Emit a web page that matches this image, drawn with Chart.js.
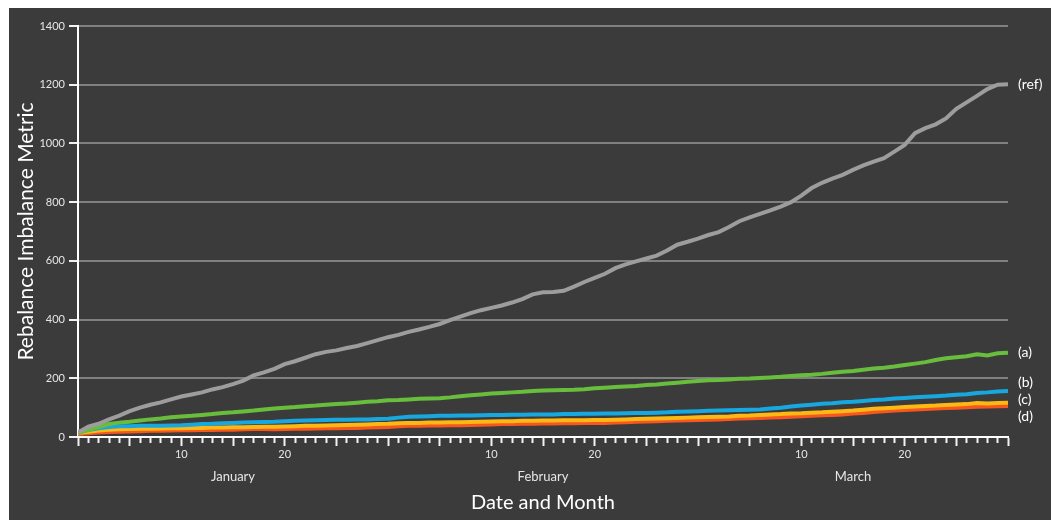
<!DOCTYPE html>
<html>
<head>
<meta charset="utf-8">
<script src="https://cdn.jsdelivr.net/npm/chart.js@4.4.1/dist/chart.umd.min.js"></script>
<style>
  body { margin: 0; background: #fff; overflow: hidden; }
  #wrap { position: absolute; left: 9px; top: 8px; width: 1042px; height: 512px; background: #3c3b3c; }
</style>
</head>
<body>
<div id="wrap"><canvas id="chart"></canvas></div>
<script>
// day position on the axis: each month is 30 slots wide (Jan 0..30, Feb 30..60, Mar 60..90)
const dayIndex = [
  0, 1, 2, 3, 4, 5, 6, 7, 8, 9, 10, 11, 12, 13, 14, 15, 16, 17, 18, 19, 20,
  21, 22, 23, 24, 25, 26, 27, 28, 29, 30, 31, 32, 33, 34, 35, 36, 37, 38, 39, 40,
  41, 42, 43, 44, 45, 46, 47, 48, 49, 50, 51, 52, 53, 54, 55, 56, 57, 58, 59, 60,
  61, 62, 63, 64, 65, 66, 67, 68, 69, 70, 71, 72, 73, 74, 75, 76, 77, 78, 79, 80,
  81, 82, 83, 84, 85, 86, 87, 88, 89, 90
];
const monthNames = ["January", "February", "March"];
const dayTickLabels = ["10", "20"];
const yTicks = [0, 200, 400, 600, 800, 1000, 1200, 1400];

const seriesTags = ["(ref)", "(a)", "(b)", "(c)", "(d)"];
const seriesColors = ["#9d9d9d", "#69bd3c", "#17a8e0", "#fdb813", "#f6561f"];

const refValues = [
  15, 35, 45, 60, 73, 88, 100, 110, 118, 128, 138, 145, 152, 162, 170, 180, 192, 210, 220, 232,
  248, 258, 270, 282, 290, 295, 303, 310, 320, 330, 340, 348, 358, 366, 375, 385, 398, 410, 422, 432,
  440, 448, 458, 470, 486, 493, 494, 498, 512, 528, 542, 556, 575, 588, 598, 608, 618, 635, 655, 665,
  676, 688, 698, 715, 735, 748, 760, 772, 785, 800, 822, 848, 866, 880, 893, 910, 925, 938, 950, 972,
  995, 1035, 1052, 1065, 1085, 1118, 1140, 1162, 1185, 1200, 1202
];
const aValues = [
  12, 24, 34, 44, 49, 52, 56, 60, 63, 67, 70, 72, 75, 78, 82, 84, 87, 90, 94, 97,
  100, 102, 105, 107, 110, 112, 114, 117, 120, 122, 125, 126, 128, 130, 131, 132, 135, 139, 142, 145,
  148, 150, 152, 154, 157, 158, 159, 160, 161, 163, 166, 168, 170, 172, 174, 177, 179, 182, 185, 188,
  191, 193, 194, 196, 198, 199, 201, 203, 205, 208, 210, 212, 215, 219, 222, 225, 229, 233, 236, 240,
  245, 250, 255, 262, 268, 272, 275, 282, 278, 285, 287
];
const bValues = [
  18, 24, 30, 34, 37, 37, 38, 38, 38, 39, 40, 42, 44, 45, 47, 48, 49, 50, 51, 52,
  54, 55, 56, 57, 58, 59, 59, 60, 60, 61, 62, 66, 69, 70, 71, 72, 72, 73, 73, 74,
  75, 75, 76, 76, 77, 77, 77, 78, 78, 79, 79, 80, 80, 81, 82, 82, 83, 84, 86, 87,
  88, 89, 90, 91, 92, 93, 94, 97, 100, 104, 107, 110, 113, 115, 118, 120, 123, 126, 128, 131,
  133, 135, 137, 139, 141, 144, 146, 150, 152, 155, 157
];
const cValues = [
  14, 18, 22, 25, 26, 27, 28, 28, 29, 30, 30, 31, 31, 32, 32, 33, 33, 34, 35, 35,
  36, 37, 38, 38, 39, 40, 41, 42, 43, 44, 45, 47, 48, 48, 49, 49, 50, 50, 51, 52,
  53, 54, 54, 55, 55, 56, 56, 57, 57, 57, 58, 58, 59, 60, 61, 62, 63, 64, 65, 66,
  67, 68, 69, 70, 72, 73, 75, 77, 78, 80, 81, 83, 84, 86, 88, 90, 93, 96, 98, 100,
  102, 104, 106, 107, 109, 111, 112, 116, 114, 116, 117
];
const dValues = [
  10, 13, 15, 17, 18, 19, 20, 21, 21, 22, 23, 23, 24, 24, 25, 25, 26, 27, 27, 26,
  27, 28, 28, 29, 30, 30, 31, 31, 32, 33, 34, 37, 38, 38, 39, 39, 40, 40, 41, 42,
  43, 44, 44, 45, 45, 46, 46, 47, 47, 48, 48, 48, 49, 50, 52, 53, 54, 55, 56, 57,
  58, 59, 60, 61, 63, 64, 65, 66, 67, 69, 71, 72, 74, 75, 77, 80, 82, 85, 88, 90,
  92, 94, 95, 97, 99, 100, 101, 103, 104, 105, 106
];

const FONT = "Lato, 'Open Sans', sans-serif";

// labels at the right end of every line, spread apart when they crowd
const endLabels = {
  id: "endLabels",
  afterDatasetsDraw(chart) {
    const ctx = chart.ctx;
    const gap = 17;
    const items = chart.data.datasets.map((ds, i) => {
      const pts = chart.getDatasetMeta(i).data;
      const p = pts[pts.length - 1];
      return { text: seriesTags[i], target: p.y };
    }).sort((a, b) => a.target - b.target);

    let groups = items.map(it => ({ members: [it], mean: it.target }));
    let merged = true;
    while (merged) {
      merged = false;
      for (let i = 0; i < groups.length - 1; i++) {
        const a = groups[i], b = groups[i + 1];
        const aBottom = a.mean + (a.members.length - 1) * gap / 2;
        const bTop = b.mean - (b.members.length - 1) * gap / 2;
        if (bTop - aBottom < gap) {
          const members = a.members.concat(b.members);
          const mean = members.reduce((s, m) => s + m.target, 0) / members.length;
          groups.splice(i, 2, { members: members, mean: mean });
          merged = true;
          break;
        }
      }
    }

    ctx.save();
    ctx.font = "14px " + FONT;
    ctx.fillStyle = "#ffffff";
    ctx.textAlign = "left";
    ctx.textBaseline = "middle";
    const x = chart.chartArea.right + 10;
    groups.forEach(g => {
      const start = g.mean - (g.members.length - 1) * gap / 2;
      g.members.forEach((m, k) => ctx.fillText(m.text, x, start + k * gap));
    });
    ctx.restore();
  }
};

const allValues = [refValues, aValues, bValues, cValues, dValues];

new Chart(document.getElementById("chart").getContext("2d"), {
  type: "line",
  data: {
    labels: dayIndex,
    datasets: allValues.map((vals, i) => ({
      label: seriesTags[i],
      data: vals,
      borderColor: seriesColors[i],
      backgroundColor: seriesColors[i],
      borderWidth: 4,
      pointRadius: 0,
      tension: 0,
      fill: false
    }))
  },
  options: {
    responsive: true,
    maintainAspectRatio: false,
    animation: false,
    layout: { padding: { top: 18, right: 43, left: 0, bottom: 0 } },
    plugins: {
      legend: { display: false },
      tooltip: { enabled: false }
    },
    scales: {
      x: {
        type: "linear",
        position: "bottom",
        min: 0,
        max: 90,
        afterBuildTicks: s => { s.ticks = dayIndex.map(v => ({ value: v })); },
        afterFit: s => { s.height = 83; },
        border: { color: "#ffffff", width: 2 },
        grid: {
          drawOnChartArea: false,
          tickColor: "#f2f2f2",
          tickLength: 9,
          tickWidth: 2,
          tickBorderDash: c => (c.tick && c.tick.value % 5 !== 0) ? [5, 20] : []
        },
        ticks: {
          autoSkip: false,
          maxRotation: 0,
          padding: 2,
          color: "#e6e6e6",
          font: c => {
            const v = c.tick ? c.tick.value : 0;
            return v % 30 === 15
              ? { family: FONT, size: 13, lineHeight: 1.46 }
              : { family: FONT, size: 11 };
          },
          callback: v => {
            const m = Math.floor(v / 30), d = v % 30;
            if (d === 10) return dayTickLabels[0];
            if (d === 20) return dayTickLabels[1];
            if (d === 15 && m < monthNames.length) return ["", monthNames[m]];
            return "";
          }
        },
        title: {
          display: true,
          text: "Date and Month",
          color: "#ffffff",
          font: { family: FONT, size: 20 },
          padding: { top: 0, bottom: 5 }
        }
      },
      y: {
        min: 0,
        max: 1400,
        afterBuildTicks: s => { s.ticks = yTicks.map(v => ({ value: v })); },
        afterFit: s => { s.width = 69; },
        border: { color: "#ffffff", width: 2 },
        grid: {
          color: c => (c.tick && c.tick.value === 0) ? "rgba(0,0,0,0)" : "#808080",
          lineWidth: 2,
          tickColor: "#f2f2f2",
          tickLength: 9,
          tickWidth: 2
        },
        ticks: {
          padding: 4,
          color: "#e6e6e6",
          font: { family: FONT, size: 11 },
          callback: v => String(v)
        },
        title: {
          display: true,
          text: "Rebalance Imbalance Metric",
          color: "#ffffff",
          font: { family: FONT, size: 21 },
          padding: { top: 5, bottom: 0 }
        }
      }
    }
  },
  plugins: [endLabels]
});
</script>
</body>
</html>
